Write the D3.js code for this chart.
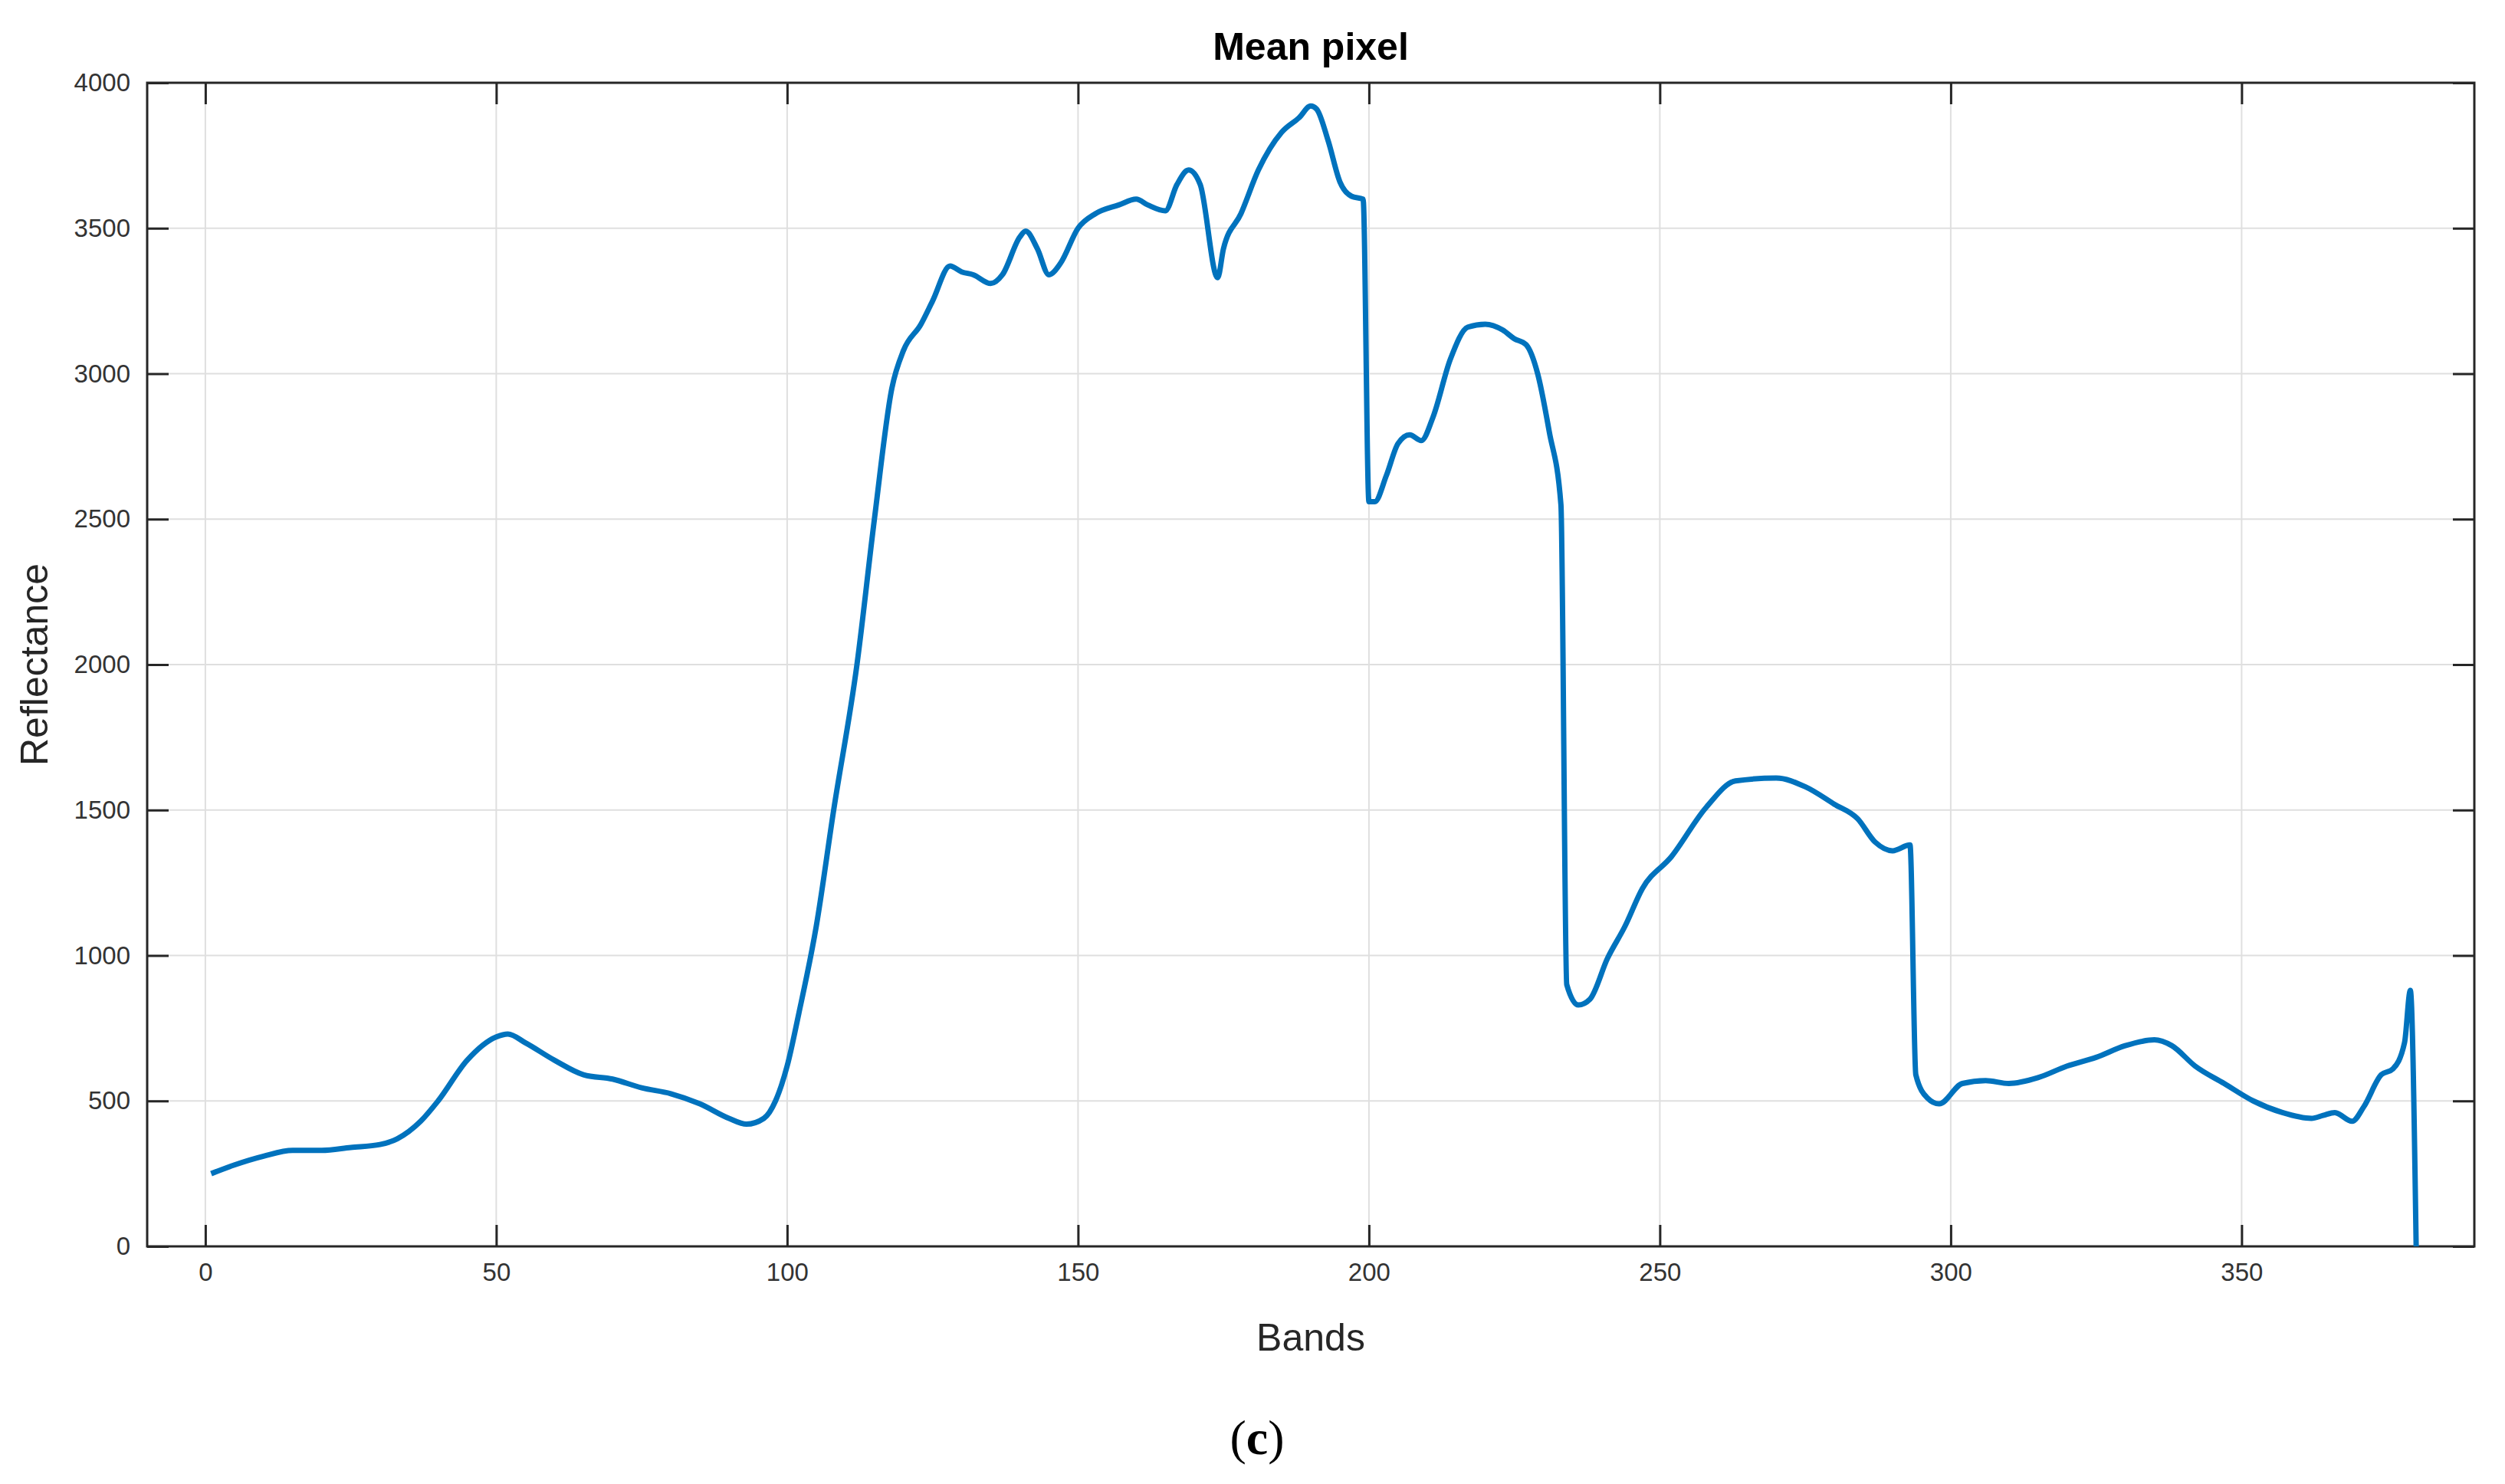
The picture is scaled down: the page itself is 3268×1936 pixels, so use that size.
<!DOCTYPE html>
<html><head><meta charset="utf-8">
<script src="https://cdn.jsdelivr.net/npm/d3@7"></script>
<style>body{margin:0;background:#fff}</style></head>
<body><svg id="c" width="3268" height="1936"></svg>
<script>
const bands=[1,5,10,15,20,25,30,33,37,40,45,50,52,55,60,65,70,75,80,85,90,93,96,98,100,102,105,108,112,115,118,120,123,125,128,130,132,135,137,140,141,143,145,147,150,153,157,160,162,165,167,169,171,174,175,178,181,185,188,190,191,193,195,197,199,200,201,203,205,207,209,211,214,217,220,223,225,227,229,231,233,234,236,238,241,244,247,252,258,263,270,275,280,284,287,290,293,294,296,298,302,306,310,315,320,325,330,335,338,342,347,352,357,362,364,366,369,371,374,376,378,379,380];
const reflectance=[250,280,310,330,330,340,350,370,430,500,640,720,730,700,640,590,575,545,525,490,440,420,440,500,620,800,1100,1500,2000,2500,2950,3080,3170,3250,3370,3350,3340,3310,3340,3470,3490,3430,3340,3380,3500,3550,3580,3600,3580,3560,3650,3700,3650,3330,3430,3550,3700,3830,3880,3920,3910,3800,3660,3610,3600,2560,2560,2650,2760,2790,2770,2850,3050,3160,3170,3150,3120,3100,3000,2800,2550,900,830,850,990,1100,1230,1340,1510,1600,1610,1580,1520,1470,1390,1360,1380,590,510,490,560,570,560,580,620,650,690,710,690,620,560,500,460,440,450,460,430,480,590,610,700,880,0];
const xTicks=[0,50,100,150,200,250,300,350];
const yTicks=[0,500,1000,1500,2000,2500,3000,3500,4000];
const L=192,R=3228,T=108,B=1626;
const svg=d3.select('#c');
const x=d3.scaleLinear().domain([-10,390]).range([L,R]);
const y=d3.scaleLinear().domain([0,4000]).range([B,T]);
const F='Arial, Liberation Sans, sans-serif';
const g=svg.append('g');
g.selectAll('.gx').data(xTicks).join('line').attr('x1',d=>x(d)).attr('x2',d=>x(d)).attr('y1',T).attr('y2',B).attr('stroke','#dfdfdf').attr('stroke-width',2);
g.selectAll('.gy').data(yTicks).join('line').attr('y1',d=>y(d)).attr('y2',d=>y(d)).attr('x1',L).attr('x2',R).attr('stroke','#dfdfdf').attr('stroke-width',2);
const ax=(a,tr)=>svg.append('g').attr('transform',tr).call(a).call(s=>{s.select('.domain').remove();s.selectAll('line').attr('stroke','#262626').attr('stroke-width',3);s.selectAll('text').attr('font-family',F).attr('font-size',33).attr('fill','#333');});
ax(d3.axisBottom(x).tickValues(xTicks).tickSize(-28).tickPadding(22).tickFormat(d3.format('d')),`translate(0,${B})`);
ax(d3.axisTop(x).tickValues(xTicks).tickSize(-28).tickFormat(''),`translate(0,${T})`);
ax(d3.axisLeft(y).tickValues(yTicks).tickSize(-28).tickPadding(22).tickFormat(d3.format('d')),`translate(${L},0)`);
ax(d3.axisRight(y).tickValues(yTicks).tickSize(-28).tickFormat(''),`translate(${R},0)`);
svg.append('rect').attr('x',L).attr('y',T).attr('width',R-L).attr('height',B-T).attr('fill','none').attr('stroke','#262626').attr('stroke-width',3);
const pts=bands.map((b,i)=>[b,reflectance[i]]);
svg.append('path').datum(pts).attr('d',d3.line().x(d=>x(d[0])).y(d=>y(d[1])).curve(d3.curveMonotoneX)).attr('fill','none').attr('stroke','#0072BD').attr('stroke-width',7);
svg.append('text').attr('x',(L+R)/2).attr('y',78).attr('text-anchor','middle').attr('font-family',F).attr('font-weight','bold').attr('font-size',50).attr('fill','#000').text('Mean pixel');
svg.append('text').attr('x',(L+R)/2).attr('y',1762).attr('text-anchor','middle').attr('font-family',F).attr('font-size',50).attr('fill','#262626').text('Bands');
svg.append('text').attr('transform',`translate(62,${(T+B)/2}) rotate(-90)`).attr('text-anchor','middle').attr('font-family',F).attr('font-size',50).attr('fill','#262626').text('Reflectance');
svg.append('text').attr('x',1640).attr('y',1897).attr('text-anchor','middle').attr('font-family','Liberation Serif, serif').attr('font-size',64).attr('fill','#000').html('(<tspan font-weight="bold">c</tspan>)');
</script></body></html>
